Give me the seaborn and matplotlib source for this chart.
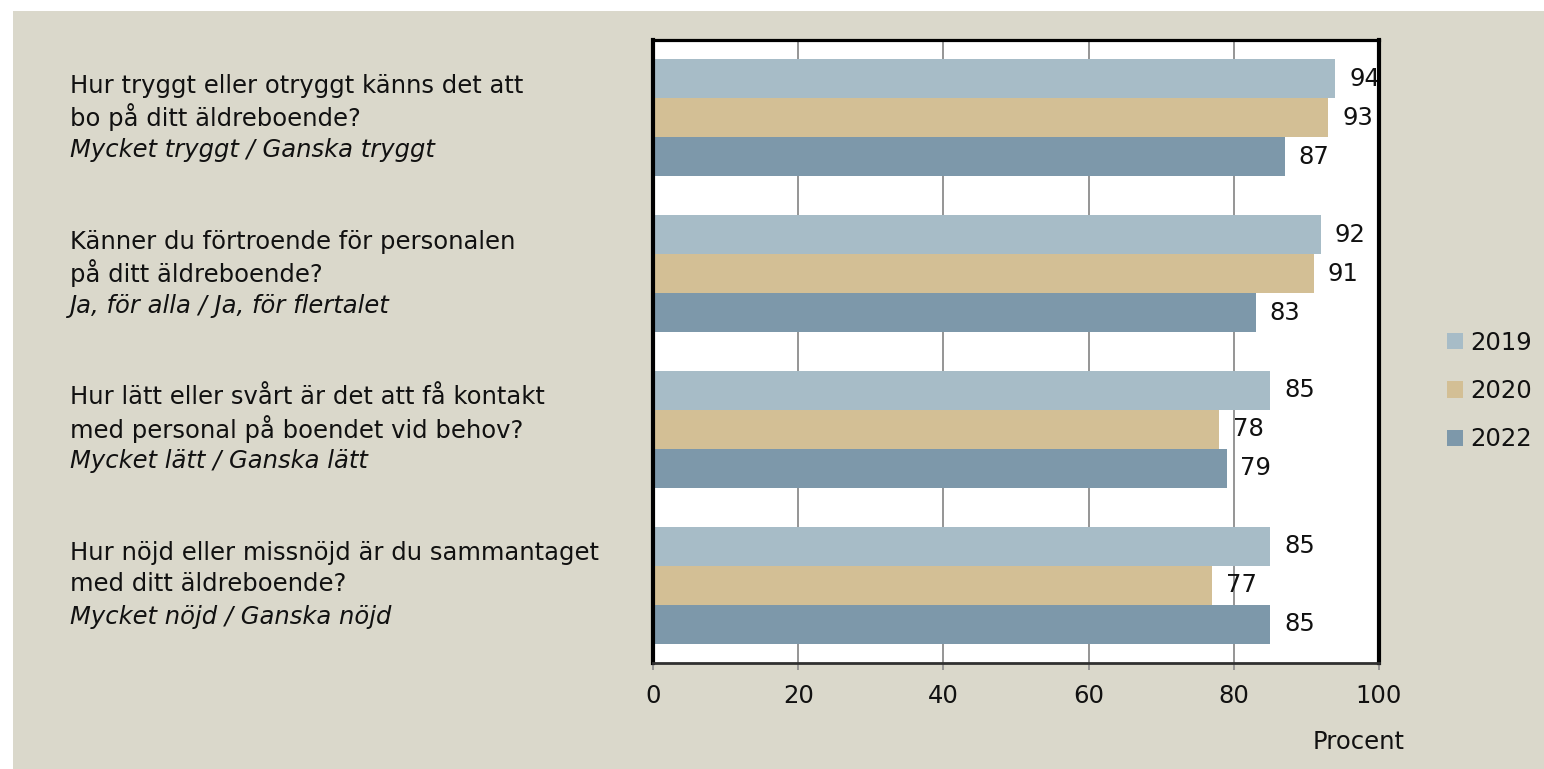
import numpy as np
import pandas as pd
import matplotlib
matplotlib.use("Agg")
import matplotlib.pyplot as plt
import matplotlib.transforms as mtransforms
from matplotlib.patches import Rectangle, Patch
import seaborn as sns

# --- data ---
rad1 = [
    "Hur tryggt eller otryggt känns det att",
    "Känner du förtroende för personalen",
    "Hur lätt eller svårt är det att få kontakt",
    "Hur nöjd eller missnöjd är du sammantaget",
]
rad2 = [
    "bo på ditt äldreboende?",
    "på ditt äldreboende?",
    "med personal på boendet vid behov?",
    "med ditt äldreboende?",
]
svar = [
    "Mycket tryggt / Ganska tryggt",
    "Ja, för alla / Ja, för flertalet",
    "Mycket lätt / Ganska lätt",
    "Mycket nöjd / Ganska nöjd",
]
ar = ["2019", "2020", "2022"]
v2019 = [94, 92, 85, 85]
v2020 = [93, 91, 78, 77]
v2022 = [87, 83, 79, 85]

farger = ["#a7bcc7", "#d3bf95", "#7d98aa"]
beige = "#dad8cb"
ink = "#111111"

rows = []
for a, vals in zip(ar, [v2019, v2020, v2022]):
    for i, v in enumerate(vals):
        rows.append({"fraga": f"q{i}", "ar": a, "procent": v})
df = pd.DataFrame(rows)

sns.set_theme(style="white")
plt.rcParams["font.family"] = ["DejaVu Sans"]
FS = 17.5

fig = plt.figure(figsize=(15.44, 7.69), dpi=100, facecolor="white")
fig.add_artist(Rectangle((13 / 1544, 0), 1 - 13 / 1544, 1 - 11 / 769,
                         transform=fig.transFigure, facecolor=beige,
                         edgecolor="none", zorder=-10))
ax = fig.add_axes([653 / 1544, 1 - 663 / 769, 726 / 1544, 623 / 769])
ax.set_facecolor("white")

sns.barplot(data=df, y="fraga", x="procent", hue="ar", orient="h",
            palette=farger, width=0.75, errorbar=None, linewidth=0,
            saturation=1, ax=ax, legend=False)

ax.set_xlim(0, 100)
ax.set_ylim(3.5, -0.5)
ax.set_xticks(range(0, 101, 20))
ax.set_xticklabels([str(t) for t in range(0, 101, 20)], fontsize=FS, color=ink)
ax.tick_params(axis="x", direction="out", length=5, width=1.2,
               color="#8c8c8c", pad=10, bottom=True)
ax.set_yticks([])
ax.set_xlabel("")
ax.set_ylabel("")
ax.set_axisbelow(True)
ax.grid(axis="x", color="#8c8c8c", linewidth=1.3)
ax.grid(axis="y", visible=False)

for side, lw, col in [("left", 3, "black"), ("top", 2.3, "black"),
                      ("right", 3, "black"), ("bottom", 2, "#303030")]:
    ax.spines[side].set_visible(True)
    ax.spines[side].set_linewidth(lw)
    ax.spines[side].set_color(col)
    ax.spines[side].set_zorder(5)

for cont in ax.containers:
    texts = ax.bar_label(cont, padding=10, fontsize=FS, color=ink)
    for t in texts:
        t.set_clip_on(True)
        t.set_zorder(2)

# question labels on the left, three lines per question
trans = mtransforms.blended_transform_factory(fig.transFigure, ax.transData)
for i in range(len(rad1)):
    for txt, dy, stil in [(rad1[i], 23, "normal"), (rad2[i], 0.5, "normal"),
                          (svar[i], -23, "italic")]:
        ax.annotate(txt, xy=(70 / 1544, i), xycoords=trans, xytext=(0, dy),
                    textcoords="offset points", ha="left", va="center",
                    fontsize=FS, style=stil, color=ink,
                    annotation_clip=False)

fig.text(1405 / 1544, 1 - 742 / 769, "Procent", ha="right", va="center",
         fontsize=FS, color=ink)

handles = [Patch(facecolor=c, edgecolor="none") for c in farger]
fig.legend(handles, ar, loc="center left",
           bbox_to_anchor=(1447 / 1544, 1 - 391 / 769), frameon=False,
           fontsize=FS, handlelength=0.65, handleheight=0.65,
           handletextpad=0.3, labelspacing=1.0, borderpad=0,
           borderaxespad=0, labelcolor=ink)

plt.savefig("out.png", dpi=100, facecolor="white")
plt.close()
